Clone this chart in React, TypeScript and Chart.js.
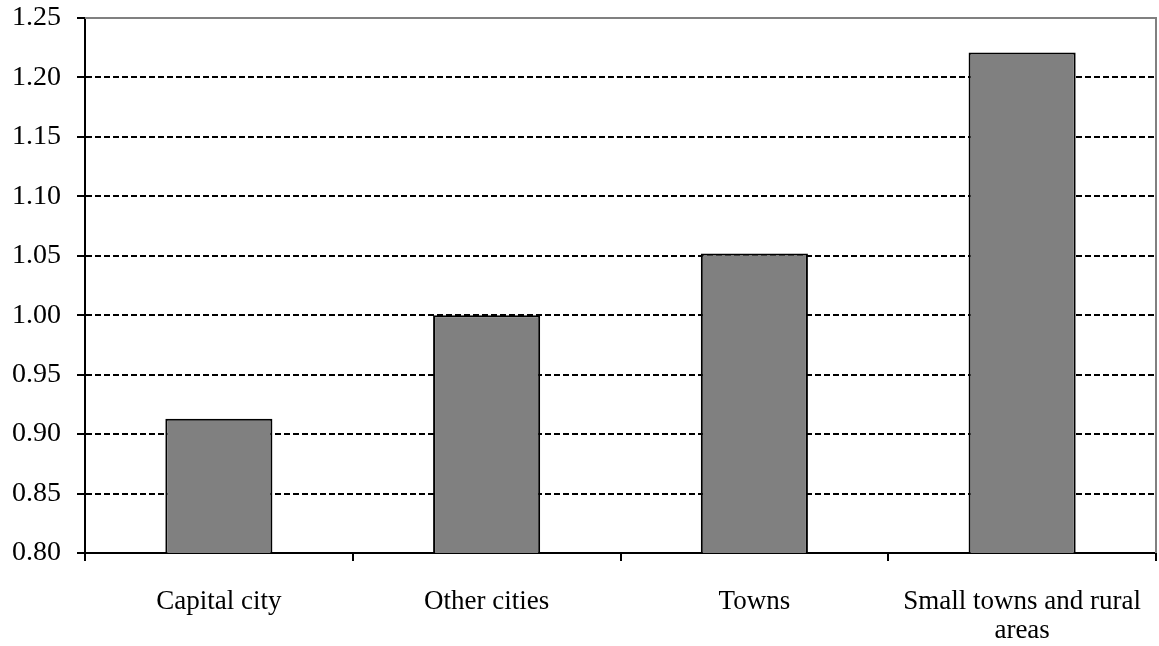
import React, { useEffect, useRef } from "react";
import { Chart, registerables } from "chart.js";

Chart.register(...registerables);

const categories: (string | string[])[] = [
  "Capital city",
  "Other cities",
  "Towns",
  ["Small towns and rural", "areas"],
];
const values: number[] = [0.913, 1.0, 1.052, 1.221];
const yMin = 0.8;
const yMax = 1.25;
const yStep = 0.05;

const FONT = "'Liberation Serif', 'Times New Roman', serif";

// Gray frame along the top and right edges of the plot area
const framePlugin = {
  id: "frame",
  afterDraw(chart: any) {
    const { ctx, chartArea } = chart;
    ctx.save();
    ctx.strokeStyle = "#808080";
    ctx.lineWidth = 2;
    ctx.beginPath();
    ctx.moveTo(chartArea.left, chartArea.top);
    ctx.lineTo(chartArea.right, chartArea.top);
    ctx.lineTo(chartArea.right, chartArea.bottom);
    ctx.stroke();
    ctx.restore();
  },
};

export default function App() {
  const ref = useRef<HTMLCanvasElement | null>(null);

  useEffect(() => {
    if (!ref.current) return;
    const chart = new Chart(ref.current, {
      type: "bar",
      data: {
        labels: categories,
        datasets: [
          {
            data: values,
            backgroundColor: "#808080",
            borderColor: "#000000",
            borderWidth: 2,
            barPercentage: 0.4,
            categoryPercentage: 1,
          },
        ],
      },
      options: {
        animation: false,
        responsive: true,
        maintainAspectRatio: false,
        layout: { padding: { top: 18, right: 3, left: 0, bottom: 0 } },
        plugins: {
          legend: { display: false },
          tooltip: { enabled: false },
        },
        scales: {
          x: {
            grid: {
              offset: true,
              drawOnChartArea: false,
              color: "#000000",
              tickLength: 8,
              lineWidth: 2,
            },
            border: { color: "#000000", width: 2 },
            ticks: {
              color: "#000000",
              font: { family: FONT, size: 27, lineHeight: 1.05 },
              padding: 27,
              maxRotation: 0,
              autoSkip: false,
            },
            afterFit(scale: any) {
              scale.height = 93;
              scale.paddingLeft = 0;
              scale.paddingRight = 0;
            },
          },
          y: {
            min: yMin,
            max: yMax,
            grid: {
              color: (c: any) =>
                c.tick && Math.abs(c.tick.value - yMax) < 1e-6 ? "transparent" : "#000000",
              tickColor: "#000000",
              tickLength: 8,
              lineWidth: 2,
              tickBorderDash: [],
            },
            border: { color: "#000000", width: 2, dash: [6, 3] },
            ticks: {
              stepSize: yStep,
              color: "#000000",
              font: { family: FONT, size: 28 },
              padding: 16,
              callback: (v: any) => Number(v).toFixed(2),
            },
            afterFit(scale: any) {
              scale.width = 85;
              scale.paddingTop = 0;
              scale.paddingBottom = 0;
            },
          },
        },
      },
      plugins: [framePlugin],
    });
    return () => chart.destroy();
  }, []);

  return (
    <div style={{ position: "fixed", left: 0, top: 0, width: 1159, height: 646 }}>
      <canvas ref={ref} />
    </div>
  );
}
